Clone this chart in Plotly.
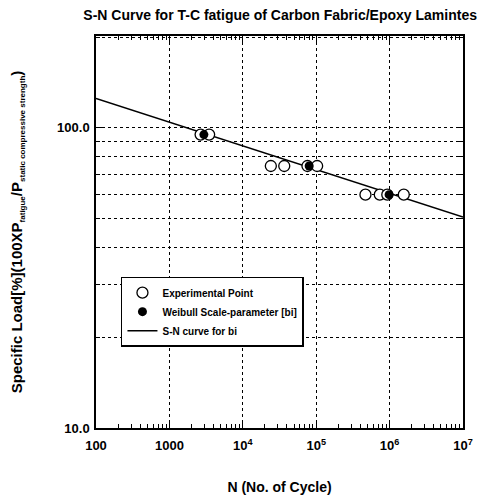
import plotly.graph_objects as go

# Experimental points (open circles)
exp_N = [2660, 3480, 24100, 36700, 76000, 103000, 469000, 735000, 930000, 1560000]
exp_S = [94.8, 94.8, 74.5, 74.5, 74.5, 74.5, 59.8, 59.8, 59.8, 59.8]
# Weibull scale parameter (filled)
wb_N = [2950, 80200, 984000]
wb_S = [94.8, 74.5, 59.8]
# S-N curve endpoints
sn_N = [100, 1e7]
sn_S = [125, 50.4]

x_tickvals = [100, 1000, 1e4, 1e5, 1e6, 1e7]
x_ticktext = ["100", "1000", "10<sup>4</sup>", "10<sup>5</sup>", "10<sup>6</sup>", "10<sup>7</sup>"]
y_tickvals = [10, 100]
y_ticktext = ["10.0", "100.0"]

x_minor = [m * 10**e for e in range(2, 7) for m in range(2, 10)]
y_minor = [m * 10 for m in range(2, 10)] + [200]

FONT = "Liberation Sans, Arial, sans-serif"

fig = go.Figure()
fig.add_trace(go.Scatter(x=sn_N, y=sn_S, mode="lines", name="S-N curve for bi",
                         line=dict(color="black", width=1.5), legendrank=3))
fig.add_trace(go.Scatter(x=exp_N, y=exp_S, mode="markers", name="Experimental Point",
                         marker=dict(symbol="circle", size=11, color="white",
                                     line=dict(color="black", width=1.3)), legendrank=1))
fig.add_trace(go.Scatter(x=wb_N, y=wb_S, mode="markers", name="Weibull Scale-parameter [bi]",
                         marker=dict(symbol="circle", size=9, color="black"), legendrank=2))

axis_common = dict(showline=True, linecolor="black", linewidth=1.5, mirror="allticks",
                   ticks="inside", ticklen=7, tickcolor="black", tickwidth=1,
                   zeroline=False, gridcolor="black", griddash="dot", gridwidth=1,
                   automargin=False)

fig.update_xaxes(type="log", range=[2, 7], tickvals=x_tickvals, ticktext=x_ticktext,
                 showgrid=True, ticklabelstandoff=5,
                 minor=dict(tickvals=x_minor, ticks="inside", ticklen=4, tickcolor="black", showgrid=False),
                 tickfont=dict(family=FONT, size=13, color="black", weight="bold"),
                 title=dict(text="N (No. of Cycle)", standoff=30,
                            font=dict(family=FONT, size=14, color="black", weight="bold")),
                 **axis_common)
fig.update_yaxes(type="log", range=[1, 2.305], tickvals=y_tickvals, ticktext=y_ticktext,
                 showgrid=True, ticklabelstandoff=2,
                 minor=dict(tickvals=y_minor, ticks="inside", ticklen=4, tickcolor="black",
                            showgrid=True, gridcolor="black", griddash="dot", gridwidth=1),
                 tickfont=dict(family=FONT, size=13, color="black", weight="bold"),
                 title=dict(text="Specific Load[%](100XP<sub><span style='font-size:8px'>fatigue</span></sub>/P<sub><span style='font-size:8px'>static compressive strength</span></sub>)",
                            standoff=38,
                            font=dict(family=FONT, size=15, color="black", weight="bold")),
                 **axis_common)

# legend shadow
fig.add_shape(type="rect", xref="paper", yref="paper",
              x0=0.0736, x1=0.562, y0=0.209, y1=0.378,
              fillcolor="black", line=dict(width=0), layer="above")

fig.update_layout(
    width=480, height=488,
    margin=dict(l=88, r=25, t=28, b=68),
    paper_bgcolor="white", plot_bgcolor="white",
    title=dict(text="S-N Curve for T-C fatigue of Carbon Fabric/Epoxy Lamintes",
               x=0.567, xanchor="center", y=0.9857, yanchor="middle", automargin=False,
               font=dict(family=FONT, size=14, color="black", weight="bold")),
    showlegend=True,
    legend=dict(x=0.068, y=0.386, xanchor="left", yanchor="top",
                bgcolor="white", bordercolor="black", borderwidth=1.5,
                font=dict(family=FONT, size=10, color="black", weight="bold"),
                tracegroupgap=0, itemwidth=30,
                traceorder="normal"),
)

fig.write_html("out.html")
